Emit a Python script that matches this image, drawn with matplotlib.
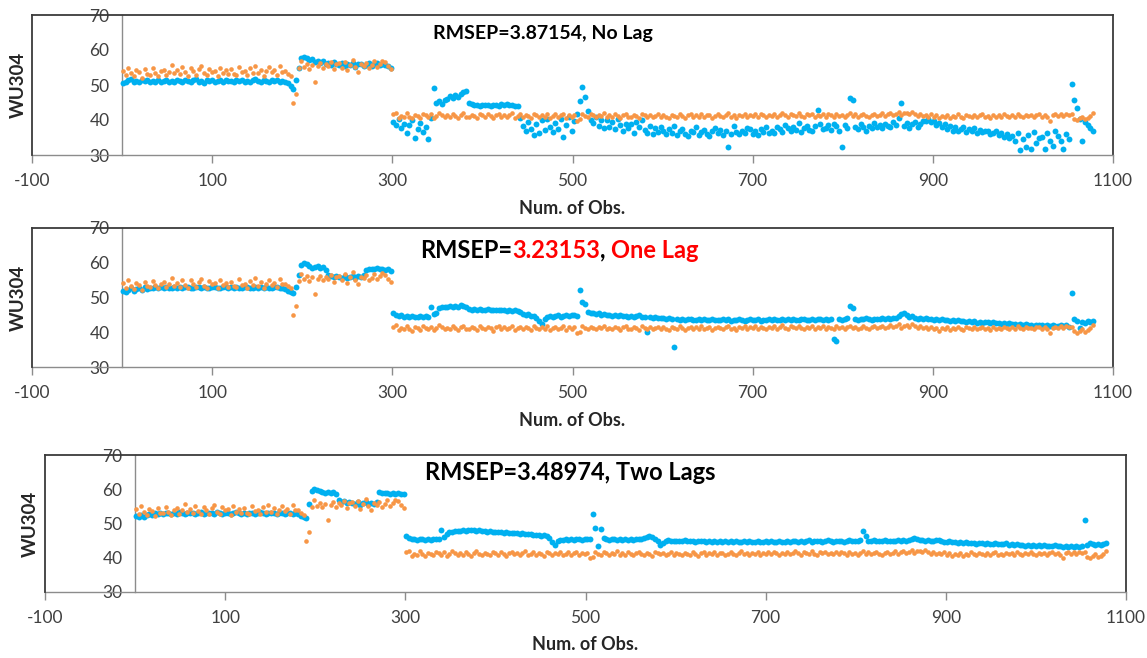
import numpy as np
import matplotlib
matplotlib.use("Agg")
import matplotlib.pyplot as plt

# ---------------- data (observation index, every 3rd observation) ----------------
obs = np.arange(1, 1080, 3)

measured = [
    54.1, 52.8, 55.0, 53.4, 52.5, 54.3, 53.7, 52.1, 54.6, 53.2, 53.0, 54.8, 53.5, 52.6, 54.0, 54.4, 52.9, 53.8, 55.6, 53.3,
    54.2, 53.1, 55.1, 53.6, 52.7, 54.9, 53.9, 52.9, 54.5, 55.3, 53.4, 52.8, 54.7, 53.8, 54.1, 52.6, 55.0, 53.5, 54.3, 53.1,
    54.6, 53.2, 52.9, 55.2, 53.7, 54.0, 52.8, 54.8, 53.5, 55.5, 53.3, 54.4, 52.7, 53.9, 55.1, 53.6, 54.2, 52.9, 55.4, 53.8,
    54.0, 53.2, 52.6, 45.0, 47.5, 54.8, 56.8, 55.2, 56.1, 54.7, 55.8, 51.0, 55.4, 56.3, 54.9, 56.0, 55.3, 56.5, 54.6, 55.9,
    56.2, 55.0, 56.7, 54.3, 55.8, 57.2, 55.1, 53.8, 56.0, 55.5, 56.4, 54.9, 55.7, 56.8, 55.2, 56.1, 57.0, 56.5, 55.4, 54.5,
    41.6, 42.0, 40.6, 41.2, 40.8, 41.9, 41.0, 40.5, 41.5, 41.1, 40.7, 41.8, 41.3, 40.9, 41.6, 40.6, 41.2, 42.0, 41.4, 40.8,
    41.3, 40.9, 41.7, 41.1, 40.6, 41.5, 41.9, 41.0, 40.8, 41.4, 41.2, 40.7, 41.8, 41.3, 40.9, 41.6, 41.1, 40.5, 41.4, 41.7,
    41.0, 41.5, 40.8, 41.3, 41.9, 40.7, 41.2, 41.6, 40.9, 41.4, 41.1, 40.6, 41.7, 41.3, 40.8, 41.5, 41.0, 41.8, 40.7, 41.2,
    41.6, 40.9, 41.3, 41.8, 40.7, 41.4, 41.0, 41.5, 39.8, 40.2, 41.7, 41.2, 40.9, 41.6, 41.3, 40.8, 41.5, 41.1, 41.9, 40.9,
    41.3, 40.8, 41.6, 41.1, 40.7, 41.4, 41.8, 41.0, 40.9, 41.5, 41.2, 40.6, 41.7, 41.3, 41.0, 41.5, 40.8, 41.2, 41.6, 40.9,
    41.4, 41.0, 40.7, 41.5, 41.2, 40.9, 41.8, 41.1, 40.6, 41.3, 41.6, 40.8, 41.4, 41.0, 41.7, 40.9, 41.3, 41.5, 40.7, 41.2,
    41.6, 41.1, 40.8, 41.4, 41.9, 41.0, 41.3, 40.7, 41.5, 41.2, 41.8, 40.9, 41.4, 41.1, 41.7, 41.0, 41.6, 41.3, 40.8, 41.5,
    41.2, 41.8, 41.0, 41.5, 42.0, 41.3, 40.9, 41.7, 41.4, 41.1, 41.9, 41.2, 40.8, 41.6, 41.3, 41.8, 41.0, 41.5, 41.2, 41.7,
    41.0, 41.6, 41.3, 40.9, 41.7, 41.2, 41.5, 40.8, 41.4, 41.9, 41.1, 41.6, 41.0, 41.3, 41.8, 41.2, 40.9, 41.5, 41.7, 41.1,
    41.4, 41.9, 41.2, 41.6, 42.1, 41.5, 41.8, 42.3, 41.3, 41.9, 42.0, 41.6, 42.4, 41.7, 41.2, 41.8, 41.1, 41.5, 41.0, 41.6,
    40.8, 41.3, 40.5, 41.1, 40.9, 41.5, 40.6, 41.2, 40.8, 41.6, 41.0, 40.7, 41.4, 41.1, 40.8, 41.5, 40.9, 41.3, 41.6, 40.8,
    41.2, 40.7, 41.5, 41.0, 41.3, 40.9, 41.6, 41.1, 40.8, 41.4, 41.0, 41.7, 41.2, 40.9, 41.5, 41.1, 41.3, 40.8, 41.4, 41.6,
    41.0, 41.5, 40.9, 39.8, 41.3, 41.6, 41.1, 41.7, 41.2, 41.8, 41.4, 41.6, 40.3, 39.9, 40.5, 41.0, 40.2, 40.6, 41.1, 42.0,
]

pred_no_lag = [
    50.6, 50.9, 51.3, 51.6, 51.0, 51.2, 50.8, 51.4, 51.1, 51.5, 50.9, 51.2, 51.0, 51.3, 50.8, 51.1, 51.4, 50.9, 51.2, 51.0,
    51.3, 51.1, 50.8, 51.5, 51.2, 50.9, 51.3, 51.6, 51.0, 51.2, 50.7, 51.4, 51.1, 51.3, 50.9, 51.2, 51.5, 51.0, 51.3, 51.1,
    51.2, 50.9, 51.4, 51.1, 51.5, 50.8, 51.2, 51.0, 51.3, 51.6, 51.1, 50.9, 51.4, 51.2, 51.0, 51.3, 51.1, 51.4, 50.9, 51.2,
    50.8, 50.5, 49.8, 49.0, 51.5, 55.0, 57.6, 58.0, 57.8, 57.2, 57.5, 56.6, 57.0, 56.2, 56.8, 55.9, 56.4, 55.7, 56.5, 56.0,
    55.8, 56.3, 55.5, 56.1, 55.6, 56.4, 55.2, 55.9, 56.0, 55.4, 55.8, 56.2, 55.5, 55.9, 56.3, 55.7, 56.1, 55.6, 55.3, 55.0,
    39.5, 38.6, 40.3, 37.8, 39.0, 36.2, 38.7, 39.9, 35.0, 37.4, 39.2, 36.5, 38.1, 34.6, 40.6, 49.2, 44.8, 45.3, 44.5, 45.6,
    46.0, 46.8, 46.4, 47.1, 46.7, 47.5, 47.9, 48.4, 45.0, 44.6, 44.2, 44.3, 44.1, 44.4, 44.2, 44.3, 44.0, 44.2, 44.4, 44.1,
    44.6, 44.3, 44.5, 44.2, 44.4, 44.1, 43.9, 40.5, 38.2, 36.9, 39.4, 37.5, 35.8, 38.8, 36.4, 39.9, 37.2, 40.2, 38.0, 36.6,
    39.1, 37.4, 40.4, 35.2, 38.5, 40.8, 37.0, 39.7, 41.8, 45.3, 49.5, 46.5, 42.5, 40.0, 39.2, 40.8, 38.4, 39.9, 37.6, 40.1,
    38.1, 39.5, 37.3, 40.2, 38.6, 36.8, 39.0, 37.7, 38.9, 36.4, 39.3, 37.9, 40.0, 37.1, 36.2, 38.4, 35.9, 37.6, 36.5, 38.0,
    36.8, 35.9, 37.4, 36.2, 38.3, 35.6, 36.9, 37.5, 36.1, 35.4, 37.0, 36.6, 38.0, 35.8, 36.7, 37.2, 36.0, 35.5, 36.9, 37.6,
    36.3, 37.1, 35.7, 36.8, 32.4, 36.0, 38.2, 36.5, 35.9, 37.0, 36.4, 37.6, 37.3, 36.1, 36.8, 35.8, 37.5, 36.6, 37.9, 36.2,
    37.0, 36.4, 38.1, 37.3, 36.7, 38.5, 37.8, 36.9, 38.0, 37.2, 39.1, 36.6, 37.7, 38.4, 37.1, 36.8, 38.2, 42.8, 39.0, 37.3,
    37.8, 38.6, 37.2, 39.0, 38.3, 36.9, 32.2, 38.7, 37.6, 46.4, 45.8, 38.1, 37.4, 38.9, 37.9, 36.8, 38.4, 37.7, 39.2, 38.0,
    38.5, 37.6, 39.0, 38.2, 37.9, 39.3, 38.6, 40.6, 44.8, 38.4, 39.1, 37.8, 38.9, 39.4, 38.1, 38.8, 39.6, 39.8, 40.3, 39.5,
    39.8, 38.6, 39.2, 38.1, 38.8, 37.5, 38.3, 37.0, 37.9, 36.8, 37.4, 38.0, 36.6, 37.3, 36.9, 37.7, 36.2, 37.1, 36.5, 36.9,
    36.8, 35.9, 36.4, 37.0, 35.6, 36.2, 35.1, 36.0, 34.8, 35.5, 33.9, 36.3, 31.5, 34.6, 32.3, 35.8, 31.8, 36.5, 33.5, 35.0,
    35.2, 31.6, 36.4, 34.1, 32.5, 36.8, 35.3, 33.9, 31.7, 36.0, 34.6, 50.3, 45.6, 43.5, 40.2, 34.0, 39.4, 38.5, 37.6, 36.9,
]

pred_one_lag = [
    52.0, 51.6, 52.3, 52.8, 51.9, 52.4, 52.7, 52.2, 52.9, 52.5, 52.8, 52.6, 53.0, 52.7, 52.9, 52.6, 53.1, 52.8, 52.7, 53.0,
    52.8, 53.0, 52.7, 52.9, 53.1, 52.6, 52.8, 53.0, 52.9, 52.7, 53.1, 52.8, 52.6, 53.0, 52.9, 52.7, 52.8, 53.1, 52.9, 52.7,
    52.9, 52.7, 53.0, 52.8, 52.6, 52.9, 53.1, 52.8, 52.7, 53.0, 52.8, 52.9, 52.6, 53.0, 52.8, 52.7, 52.9, 53.0, 52.6, 52.8,
    52.4, 52.0, 51.6, 51.3, 53.0, 56.5, 59.3, 59.8, 59.6, 59.2, 58.6, 58.8, 59.1, 58.4, 58.7, 57.9, 56.6, 56.2, 55.9, 56.3,
    56.0, 55.7, 56.2, 55.5, 55.9, 56.3, 55.6, 56.1, 55.8, 56.4, 57.9, 58.2, 58.3, 58.1, 58.4, 58.2, 58.3, 58.0, 58.2, 57.5,
    45.6, 45.0, 44.6, 44.9, 44.5, 44.7, 44.4, 44.8, 44.5, 44.3, 44.6, 44.4, 44.7, 44.5, 47.4, 45.2, 45.6, 46.9, 47.2, 47.4,
    47.3, 47.5, 47.4, 47.6, 47.3, 47.7, 47.5, 47.4, 46.7, 46.5, 46.6, 46.4, 46.6, 46.5, 46.3, 46.6, 46.4, 46.5, 46.3, 46.4,
    46.3, 46.5, 46.2, 46.4, 46.1, 46.3, 46.0, 45.8, 45.2, 44.9, 45.3, 44.6, 44.8, 44.2, 43.1, 42.5, 43.8, 44.5, 44.6, 44.4,
    44.7, 44.9, 44.5, 44.8, 45.0, 44.6, 44.9, 45.1, 44.7, 52.3, 48.6, 48.2, 45.9, 45.4, 45.6, 45.2, 45.4, 45.0, 45.3, 44.9,
    45.1, 44.8, 45.0, 44.7, 44.9, 44.6, 44.8, 44.5, 44.7, 44.4, 44.6, 44.9, 44.3, 44.5, 40.0, 44.4, 44.1, 44.3, 44.0, 44.2,
    44.0, 43.8, 44.1, 43.7, 35.8, 43.9, 43.6, 43.8, 43.5, 43.7, 43.9, 43.6, 43.4, 43.7, 43.5, 43.8, 43.6, 43.4, 43.7, 43.5,
    43.6, 43.4, 43.7, 43.5, 43.8, 43.3, 43.6, 43.4, 43.7, 43.5, 43.3, 43.6, 43.8, 43.4, 43.5, 43.7, 43.3, 43.6, 43.4, 43.7,
    43.5, 43.8, 43.4, 43.6, 43.9, 43.5, 43.7, 43.4, 43.8, 43.6, 43.5, 43.9, 43.7, 43.4, 43.6, 43.8, 43.5, 43.7, 43.9, 43.6,
    43.8, 43.5, 43.9, 38.0, 37.4, 43.7, 43.6, 43.9, 44.0, 47.6, 47.1, 43.8, 43.6, 43.9, 43.7, 44.0, 43.8, 43.6, 43.9, 43.7,
    43.9, 44.0, 43.8, 44.1, 43.9, 44.2, 44.0, 44.6, 45.2, 45.6, 45.0, 44.4, 44.6, 44.2, 43.9, 44.1, 43.8, 44.0, 43.7, 43.9,
    43.6, 43.8, 43.5, 43.7, 43.4, 43.6, 43.3, 43.5, 43.2, 43.4, 43.1, 43.3, 43.0, 43.2, 42.9, 43.1, 42.8, 43.0, 42.7, 42.9,
    42.9, 42.7, 43.0, 42.6, 42.8, 42.5, 42.7, 42.4, 42.6, 42.3, 42.5, 42.2, 42.4, 42.1, 42.3, 42.0, 42.2, 41.9, 42.1, 42.0,
    42.2, 41.9, 42.1, 41.8, 42.0, 41.7, 41.9, 42.1, 41.8, 42.0, 41.6, 51.2, 43.8, 43.3, 41.2, 43.0, 42.8, 43.1, 42.9, 43.2,
]

pred_two_lags = [
    52.3, 52.0, 52.6, 51.9, 52.4, 52.8, 52.5, 53.0, 52.7, 53.1, 52.9, 53.2, 53.0, 52.8, 53.1, 52.9, 53.3, 53.0, 52.8, 53.1,
    53.0, 53.2, 52.9, 53.1, 53.3, 52.8, 53.0, 53.2, 53.1, 52.9, 53.3, 53.0, 52.8, 53.2, 53.1, 52.9, 53.0, 53.3, 53.1, 52.9,
    53.1, 52.9, 53.2, 53.0, 52.8, 53.1, 53.3, 53.0, 52.9, 53.2, 53.0, 53.1, 52.8, 53.2, 53.0, 52.9, 53.1, 53.2, 52.8, 53.0,
    52.7, 52.3, 52.0, 51.7, 55.8, 59.6, 60.1, 59.9, 59.5, 59.2, 59.0, 59.3, 58.8, 59.1, 58.7, 56.8, 56.2, 56.5, 55.9, 56.3,
    56.0, 55.7, 56.2, 55.5, 55.9, 56.3, 55.6, 56.1, 55.8, 56.4, 59.2, 58.9, 58.8, 58.9, 58.7, 58.8, 58.6, 58.8, 58.7, 58.5,
    46.3, 45.8, 45.5, 45.6, 45.3, 45.5, 45.4, 45.2, 45.5, 45.3, 45.6, 45.4, 45.5, 48.0, 46.2, 46.8, 47.4, 47.6, 47.8, 47.7,
    47.9, 48.0, 47.8, 48.1, 48.2, 48.0, 47.9, 48.1, 47.8, 47.7, 47.6, 47.7, 47.5, 47.6, 47.4, 47.5, 47.3, 47.4, 47.2, 47.3,
    47.2, 47.1, 47.0, 47.1, 46.9, 46.8, 46.9, 46.7, 46.6, 46.7, 46.4, 46.5, 46.3, 45.9, 44.6, 43.6, 44.8, 45.3, 45.2, 45.4,
    45.3, 45.5, 45.2, 45.4, 45.6, 45.3, 45.5, 45.4, 45.6, 52.8, 48.7, 43.4, 48.3, 45.9, 45.5, 45.3, 45.6, 45.4, 45.2, 45.5,
    45.3, 45.5, 45.2, 45.4, 45.3, 45.6, 45.4, 45.5, 45.7, 46.1, 46.3, 46.0, 45.6, 44.8, 43.7, 44.3, 44.9, 45.1, 44.9, 45.0,
    44.9, 45.0, 44.8, 45.1, 44.9, 44.8, 45.0, 44.7, 44.9, 44.8, 45.0, 44.7, 44.9, 44.6, 44.8, 44.7, 44.9, 44.6, 44.8, 44.7,
    44.8, 44.6, 44.9, 44.7, 44.5, 44.8, 44.6, 44.9, 44.7, 44.5, 44.8, 44.6, 44.7, 44.9, 44.6, 44.8, 44.5, 44.7, 44.9, 44.6,
    44.7, 44.9, 44.6, 44.8, 45.0, 44.7, 44.9, 44.6, 44.8, 45.1, 44.7, 44.9, 44.8, 45.0, 44.7, 44.9, 45.1, 44.8, 44.6, 44.9,
    44.8, 45.0, 44.7, 44.9, 45.1, 44.8, 45.0, 44.9, 45.2, 47.8, 46.3, 45.0, 44.8, 45.1, 44.9, 45.0, 44.8, 45.1, 44.9, 45.0,
    45.0, 44.8, 45.1, 44.9, 45.2, 45.0, 45.3, 45.5, 45.7, 45.6, 45.3, 45.1, 44.9, 45.2, 45.0, 44.8, 45.1, 45.3, 44.9, 44.7,
    44.6, 44.8, 44.5, 44.7, 44.4, 44.6, 44.3, 44.5, 44.2, 44.4, 44.3, 44.1, 44.4, 44.2, 44.0, 44.3, 44.1, 43.9, 44.2, 44.0,
    44.1, 43.9, 44.2, 43.8, 44.0, 43.7, 43.9, 43.6, 43.8, 43.5, 43.7, 43.4, 43.6, 43.5, 43.7, 43.4, 43.6, 43.3, 43.5, 43.4,
    43.6, 43.3, 43.5, 43.2, 43.4, 43.1, 43.3, 43.2, 43.4, 43.1, 43.3, 51.0, 43.8, 44.3, 44.0, 43.6, 43.9, 43.7, 44.0, 44.2,
]

x_ticks = [-100, 100, 300, 500, 700, 900, 1100]
y_ticks = [30, 40, 50, 60, 70]
x_label = "Num. of Obs."
y_label = "WU304"

# title pieces: (text, colour)
title_no_lag = [("RMSEP=3.87154, No Lag", "black")]
title_one_lag = [("RMSEP=", "black"), ("3.23153", "#FF0000"), (", ", "black"), ("One Lag", "#FF0000")]
title_two_lags = [("RMSEP=3.48974, Two Lags", "black")]

# ---------------- styling ----------------
plt.rcParams["font.family"] = ["Lato", "DejaVu Sans"]
plt.rcParams["axes.unicode_minus"] = False
BLUE = "#00B0F0"
ORANGE = "#F79646"
AXIS_GRAY = "#8C8C8C"
BORDER = "#3A3A3A"
TICK_TXT = "#404040"

W, H = 1147, 658
fig = plt.figure(figsize=(W / 100, H / 100), dpi=100)
fig.patch.set_facecolor("white")

# (left, top, right, bottom) in pixels
panel_px = [
    (32, 15, 1113, 155),
    (32, 228, 1113, 367),
    (45, 455, 1126, 592),
]
panel_data = [pred_no_lag, pred_one_lag, pred_two_lags]
panel_titles = [title_no_lag, title_one_lag, title_two_lags]
title_size = [14, 17, 17]
# title left x (px) and centre y (px)
title_px = [(433, 33), (420, 250), (425, 473)]
ylabel_x_px = [18, 18, 30]
xlabel_y_px = [208, 420, 645]

for k in range(3):
    l, t, r, b = panel_px[k]
    ax = fig.add_axes([l / W, 1 - b / H, (r - l) / W, (b - t) / H])
    ax.set_facecolor("white")
    ax.scatter(obs, panel_data[k], s=18, color=BLUE, linewidths=0, zorder=3)
    ax.scatter(obs, measured, s=11, color=ORANGE, linewidths=0, zorder=4)
    ax.set_xlim(-100, 1100)
    ax.set_ylim(30, 70)
    ax.set_xticks(x_ticks)
    ax.set_yticks(y_ticks)

    # y axis line at x = 0 (Excel style), grey
    ax.spines["left"].set_position(("data", 0))
    ax.spines["left"].set_color(AXIS_GRAY)
    ax.spines["left"].set_linewidth(1.0)
    ax.spines["bottom"].set_color(AXIS_GRAY)
    ax.spines["bottom"].set_linewidth(1.0)
    for side in ("top", "right"):
        ax.spines[side].set_color(BORDER)
        ax.spines[side].set_linewidth(1.3)
    # left border of plot area
    ax.plot([0, 0], [0, 1], transform=ax.transAxes, color=BORDER, lw=1.3,
            clip_on=False, zorder=6)

    ax.tick_params(axis="x", direction="out", length=6, width=1.0, color=AXIS_GRAY,
                   labelsize=12.5, labelcolor=TICK_TXT, pad=7)
    ax.tick_params(axis="y", length=0, labelsize=12.5, labelcolor=TICK_TXT, pad=9)

    # axis titles
    ax.set_xlabel(x_label, fontsize=13, fontweight="bold", color="#262626")
    ax.xaxis.label.set_va("center")
    ax.xaxis.set_label_coords(0.5, (b - xlabel_y_px[k]) / (b - t))
    ax.set_ylabel(y_label, fontsize=13.5, fontweight="bold", color="#262626")
    ax.yaxis.label.set_va("center")
    ax.yaxis.set_label_coords((ylabel_x_px[k] - l) / (r - l), 0.5)

    # chart title (possibly multi-coloured)
    tx, ty = title_px[k]
    pieces = panel_titles[k]
    txt = ax.text((tx - l) / (r - l), (b - ty) / (b - t), pieces[0][0],
                  transform=ax.transAxes, ha="left", va="center",
                  fontsize=title_size[k], fontweight="bold", color=pieces[0][1])
    for s, c in pieces[1:]:
        txt = ax.annotate(s, xycoords=txt, xy=(1, 0), ha="left", va="bottom",
                          fontsize=title_size[k], fontweight="bold", color=c)

fig.savefig("out.png", dpi=100, facecolor="white")
